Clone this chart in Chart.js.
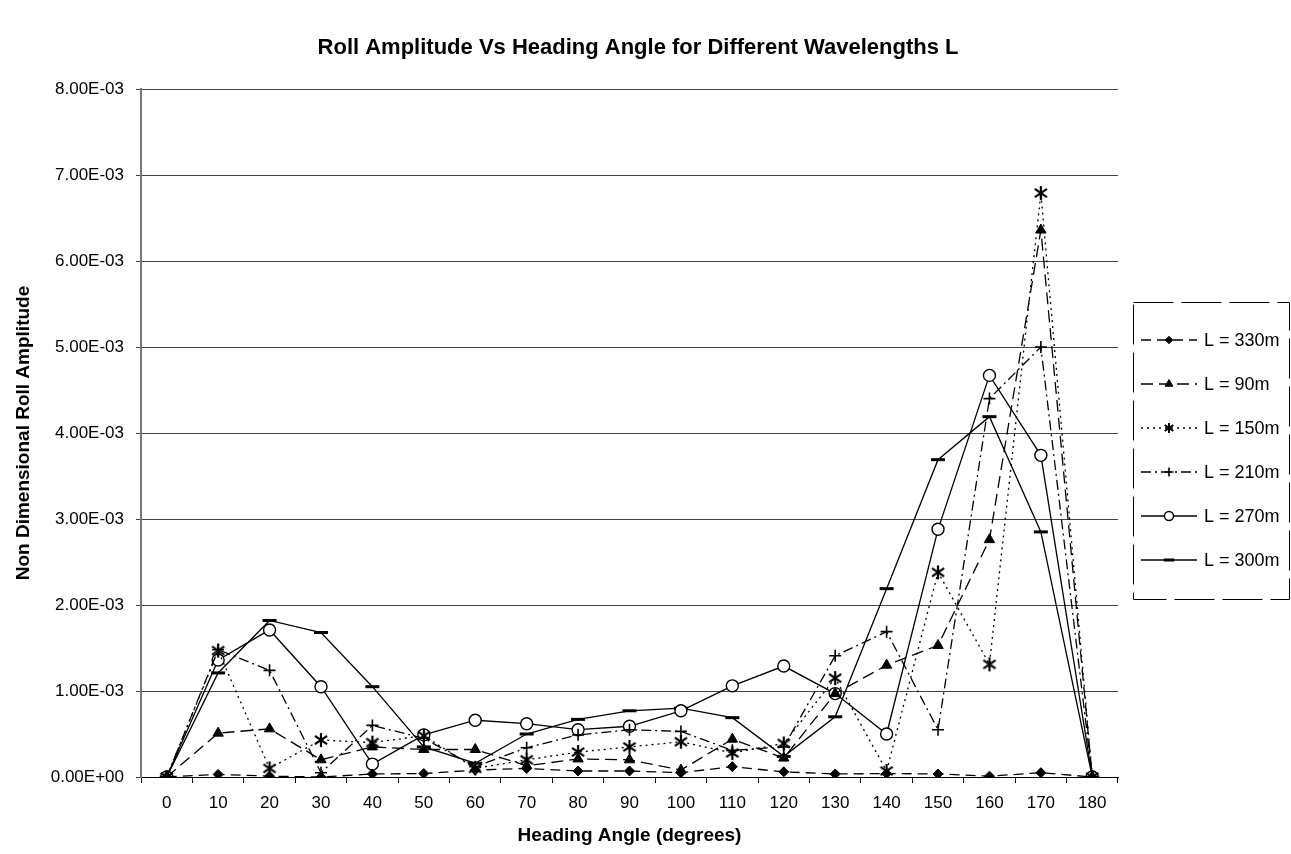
<!DOCTYPE html>
<html>
<head>
<meta charset="utf-8">
<script src="https://cdn.jsdelivr.net/npm/chart.js@4.4.1/dist/chart.umd.min.js"></script>
<style>
  html, body { margin: 0; padding: 0; background: #fff; }
  #wrap { width: 1291px; height: 854px; }
</style>
</head>
<body>
<div id="wrap"><canvas id="rollChart" width="1291" height="854"></canvas></div>
<script>
const headingAngles = ["0","10","20","30","40","50","60","70","80","90","100","110","120","130","140","150","160","170","180"];

// values in units of 1E-03
const l330 = [0, 0.03, 0.01, 0.00, 0.035, 0.04, 0.08, 0.10, 0.07, 0.07, 0.05, 0.12, 0.06, 0.035, 0.04, 0.035, 0.01, 0.05, 0];
const l90  = [0, 0.51, 0.56, 0.20, 0.35, 0.32, 0.32, 0.13, 0.21, 0.20, 0.08, 0.44, 0.22, 0.97, 1.30, 1.53, 2.76, 6.36, 0];
const l150 = [0, 1.47, 0.10, 0.43, 0.40, 0.48, 0.10, 0.20, 0.29, 0.35, 0.41, 0.28, 0.39, 1.15, 0.07, 2.38, 1.31, 6.79, 0];
const l210 = [0, 1.48, 1.24, 0.05, 0.60, 0.45, 0.12, 0.34, 0.49, 0.55, 0.53, 0.31, 0.35, 1.41, 1.69, 0.55, 4.40, 5.00, 0];
const l270 = [0, 1.36, 1.71, 1.05, 0.15, 0.49, 0.66, 0.62, 0.55, 0.59, 0.77, 1.06, 1.29, 0.97, 0.50, 2.88, 4.67, 3.74, 0];
const l300 = [0, 1.21, 1.82, 1.68, 1.05, 0.35, 0.16, 0.50, 0.67, 0.77, 0.80, 0.69, 0.24, 0.70, 2.19, 3.69, 4.19, 2.85, 0];

const FONT = "Arial, 'Liberation Sans', sans-serif";
const scaleE = arr => arr.map(v => v * 1e-3);

function sci(v) {
  if (Math.abs(v) < 1e-12) return "0.00E+00";
  let exp = Math.floor(Math.log10(Math.abs(v)) + 1e-9);
  let mant = v / Math.pow(10, exp);
  const sign = exp < 0 ? "-" : "+";
  const e = String(Math.abs(exp)).padStart(2, "0");
  return mant.toFixed(2) + "E" + sign + e;
}

// excel style asterisk: an X with a vertical stroke
function makeStar(size, lw) {
  const c = document.createElement("canvas");
  c.width = size; c.height = size;
  const g = c.getContext("2d");
  const m = size / 2, r = size / 2 - 1;
  g.strokeStyle = "#000";
  g.lineWidth = lw;
  g.beginPath();
  g.moveTo(m, m - r); g.lineTo(m, m + r);
  g.moveTo(m - r * 0.87, m - r * 0.6); g.lineTo(m + r * 0.87, m + r * 0.6);
  g.moveTo(m + r * 0.87, m - r * 0.6); g.lineTo(m - r * 0.87, m + r * 0.6);
  g.stroke();
  return c;
}
const starMark = makeStar(16, 2.2);
const starSmall = makeStar(12, 2);

function series(label, data, dash, style, radius, fill, pbw) {
  return {
    label: label,
    data: scaleE(data),
    borderColor: "#000",
    borderWidth: 1.3,
    borderDash: dash,
    pointStyle: style,
    pointRadius: radius,
    pointHoverRadius: radius,
    pointBackgroundColor: fill,
    pointBorderColor: "#000",
    pointBorderWidth: pbw,
    tension: 0,
    fill: false
  };
}

const datasets = [
  series("L = 330m", l330, [10, 6], "rectRot", 5, "#000", 1),
  series("L = 90m",  l90,  [12, 6], "triangle", 6, "#000", 1),
  series("L = 150m", l150, [2, 4], starMark, 7, "#000", 1.6),
  series("L = 210m", l210, [10, 4, 2, 4], "cross", 6, "#000", 1.6),
  series("L = 270m", l270, [], "circle", 6, "#fff", 1.4),
  series("L = 300m", l300, [], "line", 7, "#000", 3)
];

// legend box with line + marker samples, drawn at the right side
const sideLegend = {
  id: "sideLegend",
  afterDraw(chart) {
    const ctx = chart.ctx;
    const left = 1133, right = 1290, top = 302, bottom = 600;
    ctx.save();
    ctx.strokeStyle = "#000";
    ctx.lineWidth = 1;
    ctx.setLineDash([40, 8]);
    ctx.strokeRect(left + 0.5, top + 0.5, right - left - 1, bottom - top - 1);
    ctx.setLineDash([]);
    chart.data.datasets.forEach((ds, i) => {
      const y = 340 + i * 44;
      ctx.strokeStyle = "#000";
      ctx.lineWidth = ds.borderWidth;
      ctx.setLineDash(ds.borderDash);
      ctx.beginPath();
      ctx.moveTo(1141, y);
      ctx.lineTo(1197, y);
      ctx.stroke();
      ctx.setLineDash([]);
      ctx.fillStyle = ds.pointBackgroundColor;
      ctx.strokeStyle = "#000";
      ctx.lineWidth = ds.pointBorderWidth;
      Chart.helpers.drawPoint(ctx, {
        pointStyle: ds.pointStyle === starMark ? starSmall : ds.pointStyle,
        radius: ds.pointRadius * 0.75,
        rotation: 0,
        borderWidth: ds.pointBorderWidth
      }, 1169, y);
      ctx.fillStyle = "#000";
      ctx.font = "18px " + FONT;
      ctx.textBaseline = "middle";
      ctx.textAlign = "left";
      ctx.fillText(ds.label, 1204, y + 1);
    });
    // title
    ctx.font = "bold 22px " + FONT;
    ctx.textAlign = "center";
    ctx.textBaseline = "middle";
    ctx.fillText("Roll Amplitude Vs Heading Angle for Different Wavelengths L", 638, 48);
    ctx.restore();
  }
};

new Chart(document.getElementById("rollChart"), {
  type: "line",
  data: { labels: headingAngles, datasets: datasets },
  options: {
    responsive: false,
    animation: false,
    layout: { padding: { top: 89, right: 173, bottom: 3, left: 8 } },
    plugins: {
      legend: { display: false },
      tooltip: { enabled: false }
    },
    scales: {
      x: {
        type: "category",
        offset: true,
        border: { color: "#000", width: 1 },
        grid: { display: true, drawOnChartArea: false, drawTicks: true, tickLength: 6, offset: true, color: "#000" },
        ticks: { color: "#000", font: { size: 17, family: FONT }, maxRotation: 0, autoSkip: false, padding: 10 },
        title: { display: true, text: "Heading Angle (degrees)", color: "#000", font: { size: 19, weight: "bold", family: FONT }, padding: { top: 6 } },
        afterFit(scale) { scale.height = 74; }
      },
      y: {
        min: 0,
        max: 0.008,
        border: { color: "#777", width: 2 },
        grid: { color: "#444", lineWidth: 1, drawTicks: true, tickLength: 5 },
        ticks: { stepSize: 0.001, color: "#000", font: { size: 17, family: FONT }, padding: 12, callback: v => sci(v) },
        title: { display: true, text: "Non Dimensional Roll Amplitude", color: "#000", font: { size: 19, weight: "bold", family: FONT }, padding: { bottom: 4 } },
        afterFit(scale) { scale.width = 133; }
      }
    }
  },
  plugins: [sideLegend]
});
</script>
</body>
</html>
